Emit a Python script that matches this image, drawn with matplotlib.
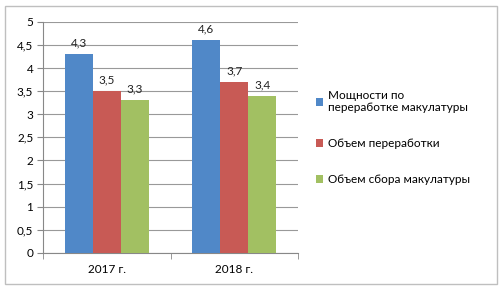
import matplotlib.pyplot as plt
import matplotlib.patches as mpatches
import numpy as np

plt.rcParams['font.family'] = ['Lato', 'DejaVu Sans']

# данные
years = ['2017 г.', '2018 г.']
capacity = [4.3, 4.6]
processed = [3.5, 3.7]
collected = [3.3, 3.4]
labels = ['Мощности по\nпереработке макулатуры', 'Объем переработки', 'Объем сбора макулатуры']
colors = ['#5088C8', '#C85A55', '#A2C062']

fig = plt.figure(figsize=(5, 2.92), dpi=100)
ax = fig.add_axes([0.086, 0.134, 0.51, 0.791])

# рамка вокруг диаграммы
fig.patches.append(mpatches.Rectangle((0.01, 0.027), 0.984, 0.952, transform=fig.transFigure,
                                      fill=False, edgecolor='#BFBFBF', linewidth=1))

x = np.arange(len(years))
width = 0.22
series = [capacity, processed, collected]
for i, (vals, col, lab) in enumerate(zip(series, colors, labels)):
    pos = x + (i - 1) * width
    ax.bar(pos, vals, width, color=col, label=lab, zorder=3)
    for p, v in zip(pos, vals):
        ax.text(p, v + 0.12, f'{v:.1f}'.replace('.', ','), ha='center', va='bottom',
                fontsize=8.5, color='#222222')

ax.set_xlim(-0.5, 1.5)
ax.set_ylim(0, 5)
yt = np.arange(0, 5.01, 0.5)
ax.set_yticks(yt)
ax.set_yticklabels([f'{t:g}'.replace('.', ',') for t in yt], fontsize=8.5)
ax.set_xticks(x)
ax.set_xticklabels(years, fontsize=8.5)
ax.set_xticks([-0.5, 0.5, 1.5], minor=True)
ax.tick_params(axis='x', which='major', length=0, pad=8)
ax.tick_params(axis='x', which='minor', length=4, color='#888888')
ax.tick_params(axis='y', length=4, color='#888888', pad=3)

ax.grid(axis='y', color='#999999', linewidth=0.8, zorder=0)
for s in ['top', 'right']:
    ax.spines[s].set_visible(False)
ax.spines['left'].set_color('#888888')
ax.spines['bottom'].set_color('#888888')

ax.legend(loc='center left', bbox_to_anchor=(1.03, 0.5), frameon=False, fontsize=8.5,
          handlelength=0.6, handleheight=0.6, handletextpad=0.4, labelspacing=2.1)

plt.savefig('out.png', dpi=100, facecolor='white')
